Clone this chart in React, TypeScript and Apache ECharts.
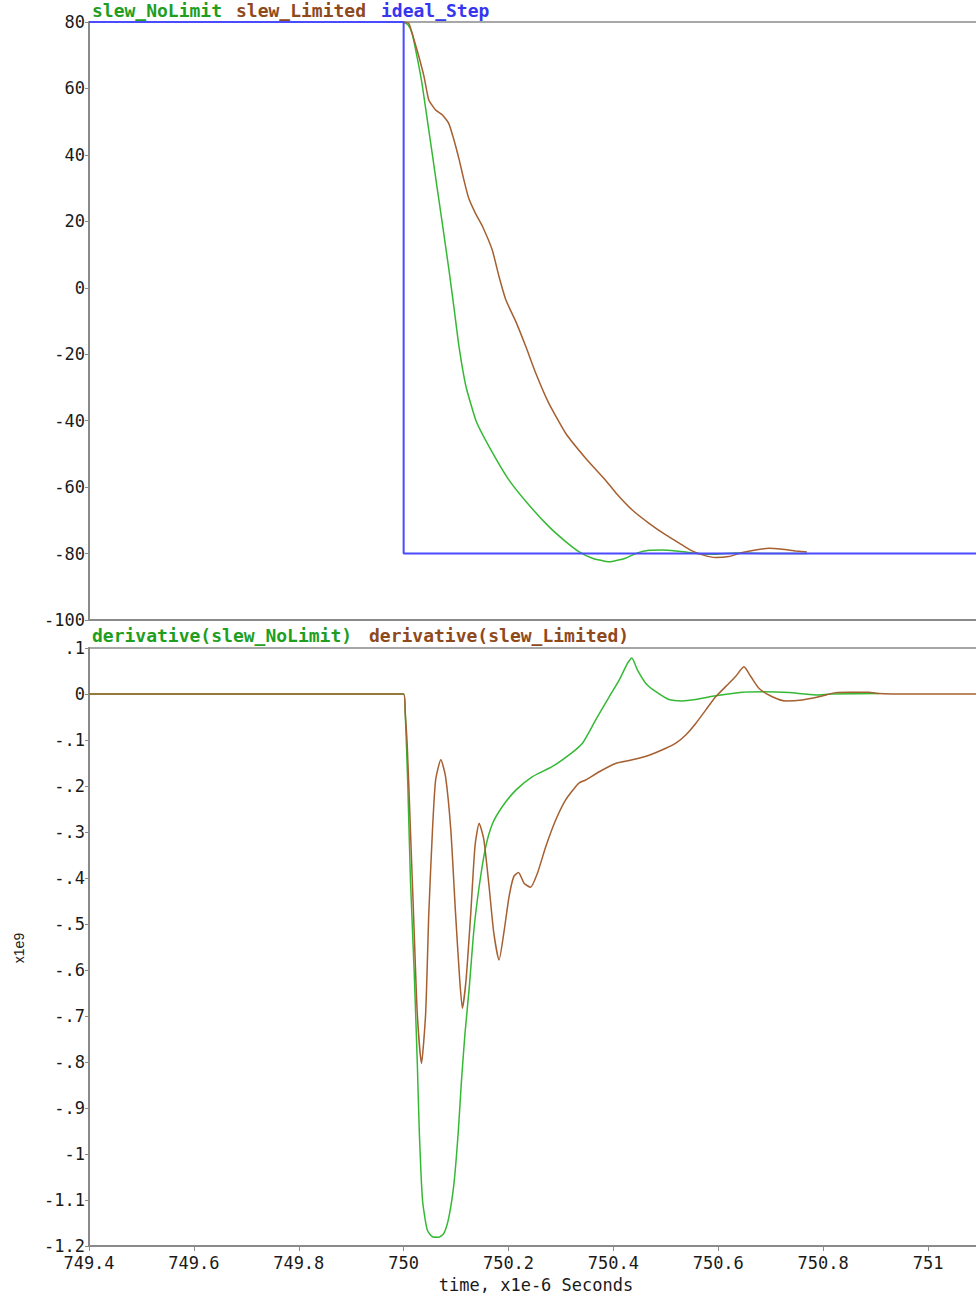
import React, { useEffect, useRef } from "react";
import * as echarts from "echarts";

// ---- data (time in µs) ----
const xMin = 749.4;
const xMax = 751.0915;
const xInterval = 0.2;

const topYMin = -100;
const topYMax = 80;
const topYInterval = 20;

const botYMin = -1.2;
const botYMax = 0.1;
const botYInterval = 0.1;

const topLegend = ["slew_NoLimit", "slew_Limited", "ideal_Step"];
const botLegend = ["derivative(slew_NoLimit)", "derivative(slew_Limited)"];
const xAxisTitle = "time, x1e-6 Seconds";
const yAxisTitle = "x1e9";

const idealStep: [number, number][] = [
  [749.4, 80], [750.0, 80], [750.0, -80], [751.0915, -80],
];

const slewNoLimit: [number, number][] = [
  [750.0, 80], [750.008, 79.2], [750.016, 76.6], [750.0255, 69.6], [750.035, 61.5],
  [750.0484, 47], [750.0617, 32.5], [750.075, 18], [750.0865, 5.3], [750.096, -6],
  [750.1056, -17.7], [750.119, -29.8], [750.138, -40], [750.163, -47.8], [750.201, -57.9],
  [750.239, -65.4], [750.277, -71.9], [750.309, -76.4], [750.334, -79.4], [750.36, -81.4],
  [750.392, -82.5], [750.423, -81.4], [750.446, -79.8], [750.468, -79.0], [750.493, -78.9],
  [750.519, -79.2], [750.544, -79.7], [750.57, -80.1], [750.595, -80.2], [750.633, -79.8],
  [750.7, -80], [750.769, -80],
];

const slewLimited: [number, number][] = [
  [750.0, 80], [750.01, 79.6], [750.02, 74.6], [750.029, 69.6], [750.039, 63.5],
  [750.048, 56.5], [750.061, 53.5], [750.074, 52], [750.086, 49.5], [750.096, 44.5],
  [750.106, 38.5], [750.115, 32.4], [750.124, 27], [750.137, 22.4], [750.15, 18.6],
  [750.169, 11.4], [750.182, 3.3], [750.195, -3.7], [750.214, -10.2], [750.233, -17.7],
  [750.252, -25.7], [750.277, -34.8], [750.309, -43.8], [750.347, -51.3], [750.385, -57.9],
  [750.404, -61.6], [750.436, -66.9], [750.468, -70.9], [750.5, -74.4], [750.531, -77.4],
  [750.55, -79.2], [750.57, -80.4], [750.595, -81.2], [750.62, -80.9], [750.646, -79.7],
  [750.671, -78.9], [750.697, -78.4], [750.722, -78.7], [750.748, -79.2], [750.769, -79.5],
];

const derivNoLimit: [number, number][] = [
  [749.4, 0], [750.0, 0], [750.003, -0.04], [750.008, -0.2], [750.013, -0.404],
  [750.02, -0.6], [750.026, -0.8], [750.03, -0.955], [750.036, -1.1], [750.045, -1.165],
  [750.055, -1.18], [750.067, -1.181], [750.077, -1.172], [750.0865, -1.136], [750.096, -1.064],
  [750.104, -0.955], [750.11, -0.846], [750.117, -0.738], [750.125, -0.64], [750.134, -0.513],
  [750.144, -0.419], [750.156, -0.335], [750.169, -0.283], [750.188, -0.245], [750.214, -0.209],
  [750.245, -0.18], [750.283, -0.158], [750.315, -0.133], [750.341, -0.107], [750.366, -0.057],
  [750.392, -0.006], [750.411, 0.03], [750.427, 0.067], [750.435, 0.078], [750.446, 0.052],
  [750.462, 0.023], [750.481, 0.005], [750.506, -0.012], [750.531, -0.015], [750.557, -0.012],
  [750.595, -0.004], [750.646, 0.004], [750.69, 0.005], [750.735, 0.003], [750.786, -0.002],
  [750.817, 0], [750.906, 0.001],
];

const derivLimited: [number, number][] = [
  [749.4, 0], [750.0, 0], [750.003, -0.04], [750.007, -0.115], [750.013, -0.296],
  [750.02, -0.513], [750.026, -0.694], [750.034, -0.803], [750.042, -0.694], [750.048, -0.477],
  [750.055, -0.296], [750.061, -0.187], [750.071, -0.143], [750.08, -0.18], [750.09, -0.296],
  [750.099, -0.477], [750.107, -0.622], [750.112, -0.683], [750.119, -0.622], [750.128, -0.477],
  [750.136, -0.332], [750.144, -0.281], [750.153, -0.317], [750.163, -0.419], [750.172, -0.52],
  [750.182, -0.578], [750.191, -0.52], [750.201, -0.441], [750.21, -0.397], [750.219, -0.388],
  [750.23, -0.412], [750.242, -0.42], [750.255, -0.39], [750.271, -0.332], [750.29, -0.274],
  [750.309, -0.23], [750.334, -0.194], [750.347, -0.187], [750.373, -0.169], [750.404, -0.151],
  [750.436, -0.143], [750.468, -0.133], [750.5, -0.118], [750.519, -0.107], [750.538, -0.089],
  [750.557, -0.064], [750.576, -0.035], [750.595, -0.006], [750.614, 0.016], [750.633, 0.038],
  [750.649, 0.059], [750.662, 0.038], [750.678, 0.012], [750.703, -0.006], [750.728, -0.015],
  [750.76, -0.013], [750.792, -0.006], [750.824, 0.003], [750.849, 0.004], [750.887, 0.004],
  [750.906, 0.001], [750.93, 0], [751.0915, 0],
];

// ---- styles ----
const GREEN = "#35b935";
const BROWN = "#a55f30";
const BLUE = "#4a4aff";
const GREEN_TXT = "#1f9e1f";
const BROWN_TXT = "#8e4a1c";
const BLUE_TXT = "#3636f0";
const AXIS = "#8a8a8a";
const LABEL_FONT = "DejaVu Sans Mono";
const MONO = "DejaVu Sans Mono";

const fmtX = (v: number) => String(Number(v.toFixed(1)));
const fmtTopY = (v: number) => String(Math.round(v));
const fmtBotY = (v: number) => {
  const s = String(Number(v.toFixed(1)));
  return s.replace(/^(-?)0\./, "$1.");
};

export default function App() {
  const ref = useRef<HTMLDivElement>(null);
  useEffect(() => {
    document.body.style.margin = "0";
    const chart = echarts.init(ref.current!, null, { renderer: "svg" });
    const axisLabelStyle = {
      color: "#1a1a1a",
      fontFamily: LABEL_FONT,
      fontSize: 17,
    };
    const gridCommon = {
      left: 89,
      right: 0,
      height: 598,
      show: false,
      containLabel: false,
    };
    const xCommon = {
      type: "value" as const,
      min: xMin,
      max: xMax,
      interval: xInterval,
      splitLine: { show: false },
      axisLine: { show: true, onZero: false, lineStyle: { color: AXIS, width: 2 } },
    };
    const borderAxis = (gridIndex: number) => ({
      type: "value" as const,
      gridIndex,
      position: "top",
      min: xMin,
      max: xMax,
      interval: xInterval,
      splitLine: { show: false },
      axisLine: { show: true, onZero: false, lineStyle: { color: AXIS, width: 1.5 } },
      axisTick: { show: false },
      axisLabel: { show: false },
    });
    const yLine = { show: true, onZero: false, lineStyle: { color: AXIS, width: 2 } };
    const option: any = {
      animation: false,
      backgroundColor: "#ffffff",
      grid: [
        { ...gridCommon, top: 22 },
        { ...gridCommon, top: 648 },
      ],
      xAxis: [
        {
          ...xCommon,
          gridIndex: 0,
          axisTick: { show: false },
          axisLabel: { show: false },
        },
        {
          ...xCommon,
          gridIndex: 1,
          axisTick: { show: true, length: 5, lineStyle: { color: AXIS } },
          axisLabel: {
            ...axisLabelStyle,
            margin: 8,
            formatter: fmtX,
            showMaxLabel: false,
          },
        },
        borderAxis(0),
        borderAxis(1),
      ],
      yAxis: [
        {
          type: "value",
          gridIndex: 0,
          min: topYMin,
          max: topYMax,
          interval: topYInterval,
          splitLine: { show: false },
          axisLine: yLine,
          axisTick: { show: true, length: 4, lineStyle: { color: AXIS } },
          axisLabel: { ...axisLabelStyle, margin: 4, formatter: fmtTopY },
        },
        {
          type: "value",
          gridIndex: 1,
          min: botYMin,
          max: botYMax,
          interval: botYInterval,
          splitLine: { show: false },
          axisLine: yLine,
          axisTick: { show: true, length: 4, lineStyle: { color: AXIS } },
          axisLabel: { ...axisLabelStyle, margin: 4, formatter: fmtBotY },
        },
      ],
      series: [
        {
          name: "slew_NoLimit",
          type: "line",
          xAxisIndex: 0,
          yAxisIndex: 0,
          data: slewNoLimit,
          showSymbol: false,
          smooth: 0.15,
          lineStyle: { color: GREEN, width: 1.5 },
          z: 3,
        },
        {
          name: "slew_Limited",
          type: "line",
          xAxisIndex: 0,
          yAxisIndex: 0,
          data: slewLimited,
          showSymbol: false,
          smooth: 0.15,
          lineStyle: { color: BROWN, width: 1.5 },
          z: 4,
        },
        {
          name: "ideal_Step",
          type: "line",
          xAxisIndex: 0,
          yAxisIndex: 0,
          data: idealStep,
          showSymbol: false,
          lineStyle: { color: BLUE, width: 2 },
          z: 5,
        },
        {
          name: "derivative(slew_NoLimit)",
          type: "line",
          xAxisIndex: 1,
          yAxisIndex: 1,
          data: derivNoLimit,
          showSymbol: false,
          smooth: 0.2,
          lineStyle: { color: GREEN, width: 1.5 },
          z: 3,
        },
        {
          name: "derivative(slew_Limited)",
          type: "line",
          xAxisIndex: 1,
          yAxisIndex: 1,
          data: derivLimited,
          showSymbol: false,
          smooth: 0.2,
          lineStyle: { color: BROWN, width: 1.5 },
          z: 4,
        },
      ],
      graphic: [
        {
          type: "text",
          x: 92,
          y: 10,
          style: { text: topLegend[0], fill: GREEN_TXT, font: `bold 18px "${MONO}"`, verticalAlign: "middle" },
        },
        {
          type: "text",
          x: 236,
          y: 10,
          style: { text: topLegend[1], fill: BROWN_TXT, font: `bold 18px "${MONO}"`, verticalAlign: "middle" },
        },
        {
          type: "text",
          x: 381,
          y: 10,
          style: { text: topLegend[2], fill: BLUE_TXT, font: `bold 18px "${MONO}"`, verticalAlign: "middle" },
        },
        {
          type: "text",
          x: 92,
          y: 635,
          style: { text: botLegend[0], fill: GREEN_TXT, font: `bold 18px "${MONO}"`, verticalAlign: "middle" },
        },
        {
          type: "text",
          x: 369,
          y: 635,
          style: { text: botLegend[1], fill: BROWN_TXT, font: `bold 18px "${MONO}"`, verticalAlign: "middle" },
        },
        {
          type: "text",
          x: 536,
          y: 1285,
          style: {
            text: xAxisTitle,
            fill: "#1a1a1a",
            font: `17px "${LABEL_FONT}"`,
            align: "center",
            verticalAlign: "middle",
          },
        },
        {
          type: "text",
          x: 19,
          y: 948,
          rotation: Math.PI / 2,
          style: {
            text: yAxisTitle,
            fill: "#1a1a1a",
            font: `14px "Liberation Sans"`,
            align: "center",
            verticalAlign: "middle",
          },
        },
      ],
    };
    chart.setOption(option);
    return () => chart.dispose();
  }, []);
  return <div ref={ref} style={{ width: 976, height: 1295 }} />;
}
